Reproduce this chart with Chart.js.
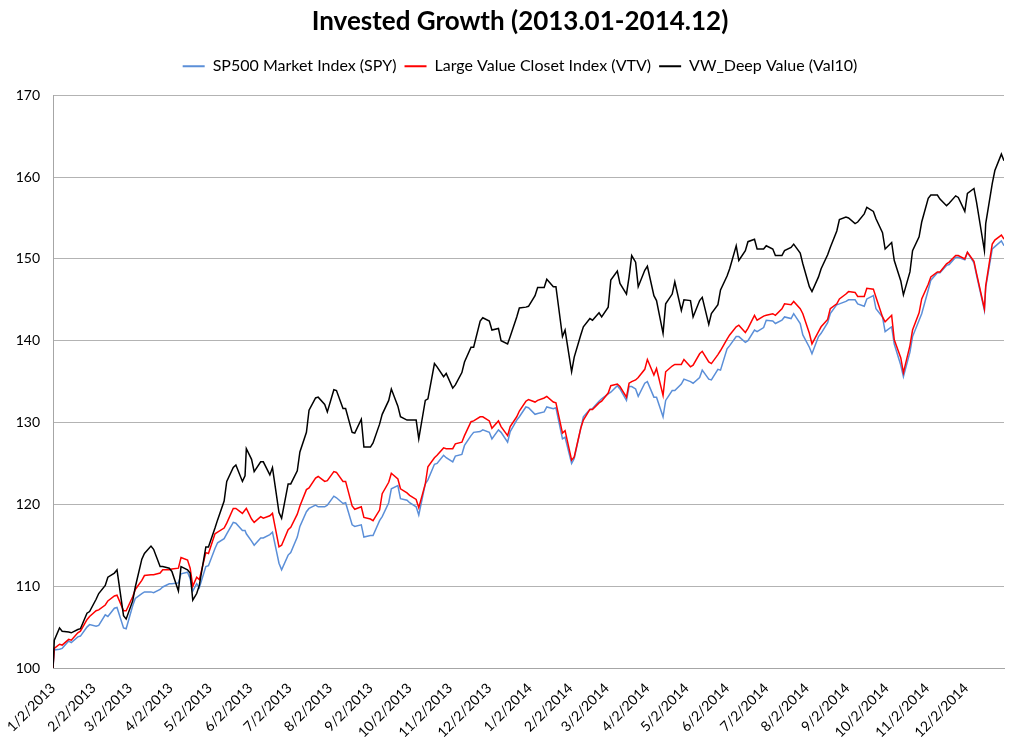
<!DOCTYPE html>
<html>
<head>
<meta charset="utf-8">
<title>Invested Growth (2013.01-2014.12)</title>
<script src="https://cdn.jsdelivr.net/npm/chart.js@4.4.1/dist/chart.umd.min.js"></script>
<style>
    body { margin: 0; background: #ffffff; }
    #wrap { width: 1030px; height: 743px; }
</style>
</head>
<body>
<div id="wrap"><canvas id="growth-chart" width="1030" height="743"></canvas></div>
<script>
// sample dates (about twice a week), one row per month
const dates = [
    '1/2/2013', '1/3/2013', '1/7/2013', '1/9/2013', '1/14/2013', '1/16/2013', '1/21/2013', '1/23/2013', '1/28/2013', '1/30/2013',
    '2/4/2013', '2/6/2013', '2/11/2013', '2/13/2013', '2/18/2013', '2/20/2013', '2/25/2013', '2/27/2013',
    '3/4/2013', '3/6/2013', '3/11/2013', '3/13/2013', '3/18/2013', '3/20/2013', '3/25/2013', '3/27/2013',
    '4/1/2013', '4/3/2013', '4/8/2013', '4/10/2013', '4/15/2013', '4/17/2013', '4/19/2013', '4/22/2013', '4/24/2013', '4/29/2013',
    '5/1/2013', '5/6/2013', '5/8/2013', '5/13/2013', '5/15/2013', '5/20/2013', '5/22/2013', '5/27/2013', '5/29/2013', '5/30/2013',
    '6/3/2013', '6/5/2013', '6/10/2013', '6/12/2013', '6/17/2013', '6/19/2013', '6/24/2013', '6/26/2013',
    '7/1/2013', '7/3/2013', '7/8/2013', '7/10/2013', '7/15/2013', '7/17/2013', '7/22/2013', '7/24/2013', '7/29/2013', '7/31/2013',
    '8/5/2013', '8/7/2013', '8/12/2013', '8/14/2013', '8/19/2013', '8/21/2013', '8/26/2013', '8/28/2013',
    '9/2/2013', '9/4/2013', '9/9/2013', '9/11/2013', '9/16/2013', '9/18/2013', '9/23/2013', '9/25/2013', '9/30/2013',
    '10/2/2013', '10/7/2013', '10/9/2013', '10/14/2013', '10/16/2013', '10/21/2013', '10/23/2013', '10/28/2013', '10/30/2013',
    '11/4/2013', '11/6/2013', '11/11/2013', '11/13/2013', '11/18/2013', '11/20/2013', '11/25/2013', '11/27/2013',
    '12/2/2013', '12/4/2013', '12/9/2013', '12/11/2013', '12/16/2013', '12/18/2013', '12/23/2013', '12/25/2013', '12/30/2013',
    '1/1/2014', '1/6/2014', '1/8/2014', '1/13/2014', '1/15/2014', '1/20/2014', '1/22/2014', '1/27/2014', '1/29/2014',
    '2/3/2014', '2/5/2014', '2/10/2014', '2/12/2014', '2/17/2014', '2/19/2014', '2/24/2014', '2/26/2014',
    '3/3/2014', '3/5/2014', '3/10/2014', '3/12/2014', '3/17/2014', '3/19/2014', '3/21/2014', '3/24/2014', '3/26/2014', '3/31/2014',
    '4/2/2014', '4/7/2014', '4/9/2014', '4/14/2014', '4/16/2014', '4/21/2014', '4/23/2014', '4/28/2014', '4/30/2014',
    '5/5/2014', '5/7/2014', '5/12/2014', '5/14/2014', '5/19/2014', '5/21/2014', '5/26/2014', '5/28/2014',
    '6/2/2014', '6/4/2014', '6/9/2014', '6/11/2014', '6/16/2014', '6/18/2014', '6/23/2014', '6/25/2014', '6/30/2014',
    '7/2/2014', '7/7/2014', '7/9/2014', '7/14/2014', '7/16/2014', '7/21/2014', '7/23/2014', '7/28/2014', '7/30/2014',
    '8/4/2014', '8/6/2014', '8/11/2014', '8/13/2014', '8/18/2014', '8/20/2014', '8/25/2014', '8/27/2014',
    '9/1/2014', '9/3/2014', '9/8/2014', '9/10/2014', '9/15/2014', '9/17/2014', '9/22/2014', '9/24/2014', '9/29/2014',
    '10/1/2014', '10/6/2014', '10/8/2014', '10/13/2014', '10/15/2014', '10/20/2014', '10/22/2014', '10/27/2014', '10/29/2014',
    '11/3/2014', '11/5/2014', '11/10/2014', '11/12/2014', '11/17/2014', '11/19/2014', '11/24/2014', '11/26/2014',
    '12/1/2014', '12/3/2014', '12/8/2014', '12/10/2014', '12/16/2014', '12/17/2014', '12/22/2014', '12/24/2014', '12/29/2014', '12/31/2014'
];

const spyValues = [
    100, 102.2, 102.3, 102.4, 103.3, 103.1, 103.8, 103.9, 105.0, 105.3,
    105.1, 105.2, 106.5, 106.3, 107.3, 107.4, 104.9, 104.8,
    107.6, 108.5, 109.1, 109.3, 109.3, 109.2, 109.6, 109.9,
    110.3, 110.3, 110.4, 111.5, 111.7, 110.9, 109.4, 110.3, 109.8, 112.4,
    112.5, 114.6, 115.3, 115.8, 116.4, 117.8, 117.7, 116.8, 116.8, 116.4,
    115.5, 115.0, 115.9, 115.9, 116.3, 116.6, 112.8, 112.0,
    113.8, 114.1, 116.0, 117.3, 119.1, 119.5, 119.9, 119.7, 119.7, 119.9,
    121.0, 120.8, 120.1, 120.2, 117.5, 117.3, 117.5, 116.0,
    116.2, 116.2, 118.0, 118.5, 120.2, 121.9, 122.3, 120.7, 120.5,
    120.2, 119.7, 118.7, 122.5, 123.0, 124.9, 125.0, 126.0, 125.7,
    125.2, 125.9, 126.1, 127.2, 128.4, 128.8, 128.9, 129.1,
    128.8, 128.0, 129.1, 128.8, 127.6, 128.9, 130.3, 130.7, 131.9,
    131.8, 131.0, 131.1, 131.3, 131.9, 131.7, 131.8, 128.0, 128.2,
    125.0, 125.6, 129.3, 130.7, 131.6, 131.7, 132.6, 132.9,
    133.5, 133.7, 134.5, 134.1, 132.7, 134.4, 134.4, 134.1, 133.2, 134.8,
    135.0, 133.1, 133.1, 130.7, 132.7, 133.9, 133.9, 134.7, 135.3,
    135.0, 134.8, 135.5, 136.4, 135.3, 135.2, 136.5, 136.4,
    139.0, 139.4, 140.5, 140.5, 139.8, 140.0, 141.3, 141.1, 141.6,
    142.5, 142.4, 142.1, 142.5, 142.9, 142.7, 143.3, 142.1, 140.7,
    139.2, 138.4, 140.5, 140.9, 142.2, 143.3, 144.4, 144.5,
    144.8, 145.0, 145.0, 144.5, 144.2, 145.1, 145.5, 143.9, 142.9,
    141.1, 141.7, 139.6, 137.0, 135.6, 138.6, 140.5, 142.5, 143.3,
    146.2, 147.4, 148.3, 148.3, 149.2, 149.3, 150.2, 150.2,
    149.9, 150.8, 149.5, 148.0, 143.7, 146.5, 151.2, 151.5, 152.2, 151.6
];

const vtvValues = [
    100, 102.4, 102.9, 102.8, 103.5, 103.4, 104.3, 104.5, 105.9, 106.3,
    107.0, 107.1, 107.7, 108.2, 108.8, 108.9, 107.0, 107.0,
    108.7, 109.6, 110.7, 111.3, 111.4, 111.4, 111.6, 112.0,
    112.0, 112.1, 112.2, 113.5, 113.2, 112.2, 110.0, 111.1, 110.8, 114.1,
    114.0, 116.4, 116.6, 117.1, 117.7, 119.5, 119.5, 118.9, 119.3, 119.5,
    118.2, 117.8, 118.5, 118.3, 118.6, 118.9, 114.8, 115.0,
    116.9, 117.2, 118.8, 119.8, 121.8, 122.0, 123.2, 123.4, 122.8, 122.9,
    124.0, 123.9, 122.8, 122.8, 119.8, 119.4, 119.7, 118.4,
    118.2, 118.0, 119.3, 121.3, 122.7, 123.8, 123.1, 121.9, 121.4,
    121.1, 120.6, 119.6, 122.5, 124.6, 125.7, 126.0, 126.9, 126.8,
    126.8, 127.4, 127.6, 128.4, 130.1, 130.2, 130.7, 130.7,
    130.2, 129.3, 130.2, 129.5, 128.4, 129.5, 130.7, 131.4, 132.6,
    132.8, 132.5, 132.7, 133.0, 133.2, 132.5, 132.4, 128.7, 129.0,
    125.4, 125.8, 129.3, 130.3, 131.6, 131.6, 132.4, 132.6,
    133.6, 134.5, 134.7, 134.4, 133.1, 134.8, 135.0, 135.2, 135.5, 136.5,
    137.7, 135.8, 136.6, 133.3, 136.2, 136.9, 137.1, 137.1, 137.7,
    136.8, 137.0, 138.4, 138.7, 137.4, 137.2, 138.3, 138.8,
    140.2, 140.7, 141.7, 141.9, 141.0, 141.5, 143.1, 142.5, 143.0,
    143.1, 143.3, 143.1, 143.9, 144.5, 144.4, 144.8, 143.9, 143.3,
    140.9, 139.6, 141.1, 141.7, 142.6, 143.9, 144.5, 145.1,
    145.7, 146.0, 145.9, 145.4, 145.4, 146.4, 146.3, 145.3, 142.9,
    142.3, 143.1, 140.1, 137.9, 136.1, 139.4, 141.3, 143.4, 145.1,
    146.9, 147.8, 148.4, 148.4, 149.4, 149.6, 150.4, 150.4,
    150.0, 150.8, 149.7, 148.2, 143.9, 146.7, 151.8, 152.3, 152.9, 152.4
];

const val10Values = [
    100, 103.4, 104.9, 104.5, 104.4, 104.3, 104.7, 104.8, 106.7, 106.9,
    108.4, 109.1, 110.1, 111.1, 111.6, 112.0, 106.4, 106.0,
    108.2, 109.9, 113.3, 114.0, 114.9, 114.5, 112.4, 112.4,
    112.2, 111.8, 109.4, 112.4, 112.0, 111.6, 108.3, 109.1, 110.1, 114.8,
    114.8, 117.1, 118.1, 120.4, 122.8, 124.5, 124.8, 122.8, 123.5, 126.8,
    125.5, 124.0, 125.2, 125.2, 123.6, 124.5, 119.0, 118.3,
    122.5, 122.5, 124.1, 126.4, 128.8, 131.5, 133.0, 133.1, 132.2, 131.3,
    134.0, 133.9, 131.7, 131.7, 128.8, 128.7, 130.4, 127.0,
    127.0, 127.5, 129.8, 131.0, 132.7, 134.1, 132.0, 130.7, 130.3,
    130.3, 130.3, 128.0, 132.7, 132.9, 137.2, 136.8, 135.6, 136.0,
    134.2, 134.6, 136.1, 137.4, 139.2, 139.2, 142.4, 142.8,
    142.4, 141.3, 141.5, 140.0, 139.6, 140.5, 142.9, 144.0, 144.1,
    144.2, 145.5, 146.5, 146.5, 147.5, 146.6, 146.6, 140.5, 141.3,
    136.2, 138.0, 140.7, 141.7, 142.7, 142.5, 143.4, 142.9,
    144.1, 147.4, 148.5, 147.0, 145.7, 147.8, 150.4, 149.6, 146.6, 148.6,
    149.1, 145.5, 144.9, 140.9, 144.5, 145.7, 147.2, 143.7, 145.0,
    144.9, 142.9, 144.9, 145.3, 142.0, 143.3, 144.4, 146.2,
    147.9, 148.8, 151.6, 149.8, 151.0, 152.1, 152.4, 151.2, 151.2,
    151.6, 151.2, 150.4, 150.4, 151.0, 151.4, 151.8, 150.7, 149.4,
    146.6, 146.0, 147.8, 148.8, 150.5, 151.4, 153.4, 154.8,
    155.1, 155.0, 154.3, 154.5, 155.5, 156.3, 155.8, 154.9, 153.2,
    151.2, 152.0, 149.8, 147.3, 145.6, 148.4, 151.0, 152.7, 154.5,
    157.4, 157.8, 157.8, 157.3, 156.5, 156.8, 157.7, 157.5,
    155.8, 158.0, 158.6, 156.9, 151.0, 154.3, 159.2, 160.8, 162.8, 162.0
];

const tickLabels = [
    '1/2/2013', '2/2/2013', '3/2/2013', '4/2/2013', '5/2/2013', '6/2/2013',
    '7/2/2013', '8/2/2013', '9/2/2013', '10/2/2013', '11/2/2013', '12/2/2013',
    '1/2/2014', '2/2/2014', '3/2/2014', '4/2/2014', '5/2/2014', '6/2/2014',
    '7/2/2014', '8/2/2014', '9/2/2014', '10/2/2014', '11/2/2014', '12/2/2014'
];

const seriesNames = ['SP500 Market Index (SPY)', 'Large Value Closet Index (VTV)', 'VW_Deep Value (Val10)'];

// days since 1/2/2013
function dayIndex(str) {
    const [m, d, y] = str.split('/').map(Number);
    return Math.round((Date.UTC(y, m - 1, d) - Date.UTC(2013, 0, 2)) / 86400000);
}

function toPoints(values) {
    return values.map((v, i) => ({ x: dayIndex(dates[i]), y: v }));
}

const tickDays = tickLabels.map(dayIndex);

Chart.defaults.font.family = 'Lato, "Open Sans", sans-serif';
Chart.defaults.color = '#000';

const ctx = document.getElementById('growth-chart').getContext('2d');
new Chart(ctx, {
    type: 'line',
    data: {
        datasets: [
            { label: seriesNames[0], data: toPoints(spyValues), borderColor: '#5B8FD8', backgroundColor: '#5B8FD8', order: 2 },
            { label: seriesNames[1], data: toPoints(vtvValues), borderColor: '#FF0000', backgroundColor: '#FF0000', order: 1 },
            { label: seriesNames[2], data: toPoints(val10Values), borderColor: '#000000', backgroundColor: '#000000', order: 0 }
        ]
    },
    options: {
        responsive: false,
        animation: false,
        // uneven padding plus an empty right axis keeps title/legend centred like the original
        layout: { padding: { left: 12, right: 2, top: 0, bottom: 0 } },
        elements: {
            point: { radius: 0 },
            line: { borderWidth: 1.5, tension: 0 }
        },
        plugins: {
            tooltip: { enabled: false },
            title: {
                display: true,
                text: 'Invested Growth (2013.01-2014.12)',
                font: { size: 26, weight: 'bold' },
                color: '#000',
                padding: { top: 6, bottom: 13 }
            },
            legend: {
                display: true,
                labels: {
                    boxWidth: 22,
                    boxHeight: 2,
                    padding: 8,
                    font: { size: 16 },
                    color: '#000',
                    sort: (a, b) => a.datasetIndex - b.datasetIndex,
                    generateLabels: chart => Chart.defaults.plugins.legend.labels.generateLabels(chart)
                        .map(item => Object.assign(item, { lineWidth: 0 }))
                }
            }
        },
        scales: {
            x: {
                type: 'linear',
                min: 0,
                max: 728,
                grid: { display: false },
                border: { display: true, color: '#A6A6A6', width: 1 },
                afterBuildTicks: axis => { axis.ticks = tickDays.map(v => ({ value: v })); },
                afterFit: axis => { axis.height = 75; },
                ticks: {
                    autoSkip: false,
                    minRotation: 45,
                    maxRotation: 45,
                    padding: 4,
                    font: { size: 14 },
                    color: '#000',
                    callback: (value, index) => tickLabels[index]
                }
            },
            xTop: {
                type: 'linear',
                position: 'top',
                display: true,
                grid: { display: false },
                border: { display: false },
                ticks: { display: false },
                afterFit: axis => { axis.height = 11; }
            },
            y: {
                min: 100,
                max: 170,
                grid: { color: '#B3B3B3', drawTicks: false },
                border: { display: true, color: '#A6A6A6', width: 1 },
                afterFit: axis => { axis.width = 41; },
                ticks: {
                    stepSize: 10,
                    padding: 13,
                    font: { size: 14 },
                    color: '#000'
                }
            },
            yRight: {
                type: 'linear',
                position: 'right',
                display: true,
                grid: { display: false },
                border: { display: false },
                ticks: { display: false },
                afterFit: axis => { axis.width = 24; }
            }
        }
    }
});
</script>
</body>
</html>
